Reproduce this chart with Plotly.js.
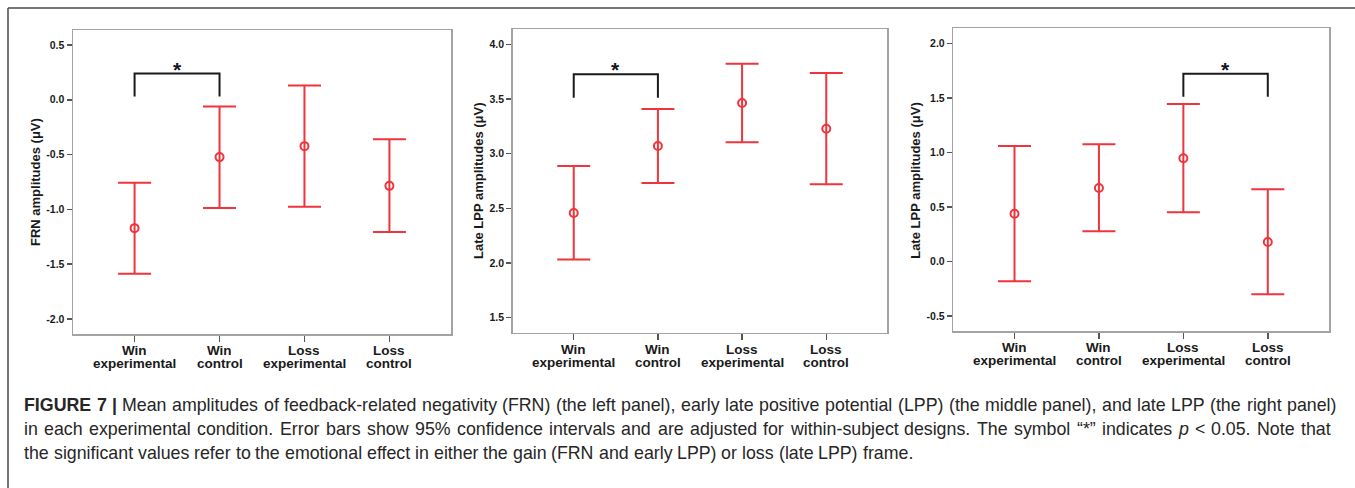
<!DOCTYPE html>
<html>
<head>
<meta charset="utf-8">
<script src="https://cdn.plot.ly/plotly-3.0.1.min.js"></script>
<style>
  html, body { margin: 0; padding: 0; background: #ffffff; }
  #chart { width: 1355px; height: 488px; }
</style>
</head>
<body>
<div id="chart"></div>
<script>
// ---------- data ----------
const labelLine1 = ['Win', 'Win', 'Loss', 'Loss'];
const labelLine2 = ['experimental', 'control', 'experimental', 'control'];

const frnMean  = [-1.171, -0.523, -0.423, -0.785];
const frnUpper = [-0.757, -0.061,  0.131, -0.359];
const frnLower = [-1.588, -0.988, -0.976, -1.207];
const frnTicks = [-2.0, -1.5, -1.0, -0.5, 0.0, 0.5];
const frnRange = [-2.137, 0.637];
const frnBracket = [0, 1, 0.24, 0.03];   // from, to, top, leg end

const earlyMean  = [2.457, 3.070, 3.463, 3.228];
const earlyUpper = [2.887, 3.408, 3.823, 3.737];
const earlyLower = [2.033, 2.731, 3.104, 2.720];
const earlyTicks = [1.5, 2.0, 2.5, 3.0, 3.5, 4.0];
const earlyRange = [1.363, 4.137];
const earlyBracket = [0, 1, 3.726, 3.512];

const lateMean  = [0.438, 0.673, 0.946, 0.178];
const lateUpper = [1.058, 1.074, 1.443, 0.661];
const lateLower = [-0.182, 0.276, 0.451, -0.301];
const lateTicks = [-0.5, 0.0, 0.5, 1.0, 1.5, 2.0];
const lateRange = [-0.640, 2.1375];
const lateBracket = [2, 3, 1.721, 1.510];

const yTitles = ['FRN amplitudes (μV)', 'Late LPP amplitudes (μV)', 'Late LPP amplitudes (μV)'];

// caption lines: segments [text, style]  (style: '' | 'b' | 'i')
const captionLine1 = [['FIGURE 7 |', 'b'], ['Mean amplitudes of feedback-related negativity (FRN) (the left panel), early late positive potential (LPP) (the middle panel), and late LPP (the right panel)', '']];
const captionLine2 = [['in each experimental condition. Error bars show 95% confidence intervals and are adjusted for within-subject designs. The symbol “*” indicates', ''], ['p', 'i'], ['< 0.05. Note that', '']];
const captionLine3 = [['the significant values refer to the emotional effect in either the gain (FRN and early LPP) or loss (late LPP) frame.', '']];

// ---------- layout helpers ----------
const W = 1355, H = 488;
const px = v => v / W;
const py = v => 1 - v / H;
const RED = 'rgb(238,52,60)';
const FONT = 'Liberation Sans, Arial, sans-serif';

const panels = [
  {mean: frnMean, up: frnUpper, lo: frnLower, ticks: frnTicks, range: frnRange, br: frnBracket,
   dx: [73, 451], dy: [334, 30], titleX: 35},
  {mean: earlyMean, up: earlyUpper, lo: earlyLower, ticks: earlyTicks, range: earlyRange, br: earlyBracket,
   dx: [512.7, 887.3], dy: [332.7, 29.3], titleX: 478},
  {mean: lateMean, up: lateUpper, lo: lateLower, ticks: lateTicks, range: lateRange, br: lateBracket,
   dx: [953.3, 1329], dy: [331.3, 28.3], titleX: 916}
];

const idx = labelLine1.map((_, i) => i);
const traces = [];
const annotations = [];
const shapes = [];
const layout = {
  width: W, height: H,
  margin: {l: 0, r: 0, t: 0, b: 0},
  paper_bgcolor: '#ffffff',
  plot_bgcolor: '#ffffff',
  showlegend: false,
  font: {family: FONT, color: '#222'}
};

panels.forEach((p, k) => {
  const n = k === 0 ? '' : String(k + 1);
  const xa = 'xaxis' + n, ya = 'yaxis' + n;
  const xr = 'x' + n, yr = 'y' + n;
  traces.push({
    type: 'scatter', mode: 'markers',
    x: idx, y: p.mean, xaxis: xr, yaxis: yr,
    marker: {symbol: 'circle-open', size: 8, color: RED, line: {width: 2, color: RED}},
    error_y: {
      type: 'data', symmetric: false,
      array: p.up.map((u, i) => u - p.mean[i]),
      arrayminus: p.mean.map((m, i) => m - p.lo[i]),
      color: RED, thickness: 2, width: 16.5
    },
    hoverinfo: 'skip'
  });
  layout[xa] = {
    domain: [px(p.dx[0]), px(p.dx[1])],
    range: [-0.725, 3.725],
    anchor: yr,
    tickvals: idx, ticktext: idx.map(() => ''),
    ticks: 'outside', ticklen: 6, tickwidth: 1.5, tickcolor: '#555',
    showgrid: false, zeroline: false,
    showline: true, mirror: true, linecolor: '#a3a3a3', linewidth: 1.5,
    fixedrange: true
  };
  layout[ya] = {
    domain: [py(p.dy[0]), py(p.dy[1])],
    range: p.range,
    anchor: xr,
    tickvals: p.ticks, ticktext: p.ticks.map(t => t.toFixed(1)),
    ticks: 'outside', ticklen: 5, tickwidth: 1.5, tickcolor: '#555',
    tickfont: {family: FONT, size: 10.5, weight: 'bold', color: '#1a1a1a'},
    showgrid: false, zeroline: false,
    showline: true, mirror: true, linecolor: '#a3a3a3', linewidth: 1.5,
    fixedrange: true
  };
  idx.forEach(i => {
    annotations.push({
      x: i, xref: xr, y: 0, yref: yr + ' domain', yanchor: 'middle', xanchor: 'center',
      yshift: -16.5, text: labelLine1[i], showarrow: false,
      font: {family: FONT, size: 13.5, weight: 'bold', color: '#1a1a1a'}
    });
    annotations.push({
      x: i, xref: xr, y: 0, yref: yr + ' domain', yanchor: 'middle', xanchor: 'center',
      yshift: -29.5, text: labelLine2[i], showarrow: false,
      font: {family: FONT, size: 13.5, weight: 'bold', color: '#1a1a1a'}
    });
  });
  annotations.push({
    x: px(p.titleX), xref: 'paper', y: 0.5, yref: yr + ' domain',
    xanchor: 'center', yanchor: 'middle', textangle: -90,
    text: yTitles[k], showarrow: false,
    font: {family: FONT, size: 13, weight: 'bold', color: '#1a1a1a'}
  });
  const b = p.br;
  shapes.push({
    type: 'path', xref: xr, yref: yr,
    path: `M ${b[0]},${b[3]} L ${b[0]},${b[2]} L ${b[1]},${b[2]} L ${b[1]},${b[3]}`,
    line: {color: '#1a1a1a', width: 2}
  });
  annotations.push({
    x: (b[0] + b[1]) / 2, xref: xr, y: b[2], yref: yr,
    xanchor: 'center', yanchor: 'bottom', yshift: -9,
    text: '<b>*</b>', showarrow: false,
    font: {family: FONT, size: 21, color: '#10131f'}
  });
});

// outer figure border (top and left edges visible)
shapes.push({type: 'line', xref: 'paper', yref: 'paper', x0: px(8), x1: 1, y0: py(8), y1: py(8),
  line: {color: '#4a4a4a', width: 1.5}});
shapes.push({type: 'line', xref: 'paper', yref: 'paper', x0: px(8), x1: px(8), y0: 0, y1: py(8),
  line: {color: '#4a4a4a', width: 1.5}});

// ---------- caption: justified text, one annotation per word ----------
const CAP_SIZE = 17.8;
const CAP_FONT = 'Liberation Sans';
const capLeft = 23;
const capRights = [1335, 1330, null];
const capY = [405, 429.3, 453.3];
const ctx = document.createElement('canvas').getContext('2d');
function measure(word, style) {
  const st = style === 'i' ? 'italic ' : '';
  const wt = style === 'b' ? 'bold ' : '';
  ctx.font = `${st}${wt}${CAP_SIZE}px "${CAP_FONT}"`;
  return ctx.measureText(word).width;
}
function esc(s) { return s.replace(/&/g, '&amp;').replace(/</g, '&lt;').replace(/>/g, '&gt;'); }
function layoutLine(segs, yPix, right) {
  const words = [];
  segs.forEach(([t, s]) => t.split(' ').filter(w => w.length).forEach(w => words.push([w, s])));
  const widths = words.map(([w, s]) => measure(w, s));
  const total = widths.reduce((a, b) => a + b, 0);
  const natural = measure(' ', '');
  let gap = right ? (right - capLeft - total) / (words.length - 1) : natural;
  if (gap < natural * 0.6) gap = natural * 0.6;
  let x = capLeft;
  words.forEach(([w, s], i) => {
    let txt = esc(w);
    if (s === 'b') txt = '<b>' + txt + '</b>';
    if (s === 'i') txt = '<i>' + txt + '</i>';
    annotations.push({
      x: px(x), xref: 'paper', y: py(yPix), yref: 'paper',
      xanchor: 'left', yanchor: 'middle', align: 'left', borderpad: 0,
      text: txt, showarrow: false,
      font: {family: CAP_FONT, size: CAP_SIZE, color: '#262626'}
    });
    x += widths[i] + gap;
  });
}
layoutLine(captionLine1, capY[0], capRights[0]);
layoutLine(captionLine2, capY[1], capRights[1]);
layoutLine(captionLine3, capY[2], capRights[2]);

layout.annotations = annotations;
layout.shapes = shapes;

Plotly.newPlot('chart', traces, layout, {staticPlot: true, displayModeBar: false});
</script>
</body>
</html>
